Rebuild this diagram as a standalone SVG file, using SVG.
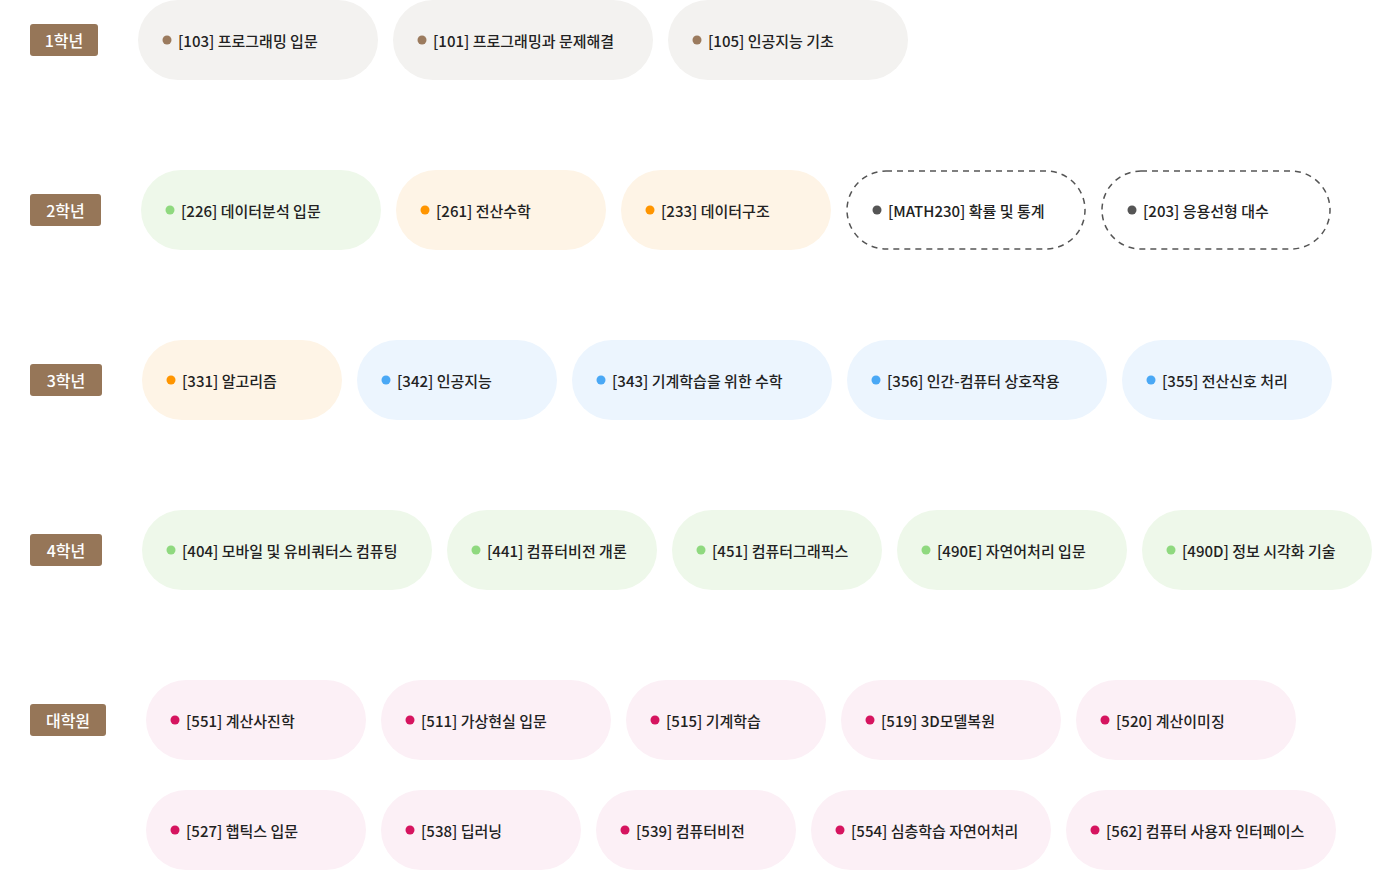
<svg xmlns="http://www.w3.org/2000/svg" width="1398" height="870" viewBox="0 0 1398 870">
<style>
text{font-family:"Noto Sans CJK KR","Noto Sans",sans-serif;font-size:15px;font-weight:500;fill:#222;dominant-baseline:central}
.lb rect{fill:#967658}
.lb text{fill:#fff;font-size:16px}
.g rect{fill:#f3f2f0}.g circle{fill:#9b7b5e}
.gr rect{fill:#eef8ea}.gr circle{fill:#8fd97f}
.o rect{fill:#fef4e6}.o circle{fill:#ff9500}
.b rect{fill:#ecf5fe}.b circle{fill:#4aa8f5}
.p rect{fill:#fcf0f6}.p circle{fill:#d6145f}
.d rect{fill:none;stroke:#555;stroke-width:1.5;stroke-dasharray:6 5}.d circle{fill:#555}
</style>
<g class="lb" id="y1"><rect x="30" y="24" width="68" height="32" rx="3"/><text x="64" y="40" text-anchor="middle">1학년</text></g>
<g class="lb" id="y2"><rect x="30" y="194" width="71" height="32" rx="3"/><text x="65.5" y="210" text-anchor="middle">2학년</text></g>
<g class="lb" id="y3"><rect x="30" y="364" width="72" height="32" rx="3"/><text x="66" y="380" text-anchor="middle">3학년</text></g>
<g class="lb" id="y4"><rect x="30" y="534" width="72" height="32" rx="3"/><text x="66" y="550" text-anchor="middle">4학년</text></g>
<g class="lb" id="grad"><rect x="30" y="704" width="76" height="32" rx="3"/><text x="68" y="720" text-anchor="middle">대학원</text></g>

<g id="c103" class="g"><rect x="138" y="0" width="240" height="80" rx="40"/><circle cx="167" cy="40" r="4.5"/><text x="178" y="40">[103] 프로그래밍 입문</text></g>
<g id="c101" class="g"><rect x="393" y="0" width="260" height="80" rx="40"/><circle cx="422" cy="40" r="4.5"/><text x="433" y="40">[101] 프로그래밍과 문제해결</text></g>
<g id="c105" class="g"><rect x="668" y="0" width="240" height="80" rx="40"/><circle cx="697" cy="40" r="4.5"/><text x="708" y="40">[105] 인공지능 기초</text></g>

<g id="c226" class="gr"><rect x="141" y="170" width="240" height="80" rx="40"/><circle cx="170" cy="210" r="4.5"/><text x="181" y="210">[226] 데이터분석 입문</text></g>
<g id="c261" class="o"><rect x="396" y="170" width="210" height="80" rx="40"/><circle cx="425" cy="210" r="4.5"/><text x="436" y="210">[261] 전산수학</text></g>
<g id="c233" class="o"><rect x="621" y="170" width="210" height="80" rx="40"/><circle cx="650" cy="210" r="4.5"/><text x="661" y="210">[233] 데이터구조</text></g>
<g id="m230" class="d"><rect x="847" y="171" width="238" height="78" rx="39"/><circle cx="877" cy="210" r="4.5"/><text x="888" y="210">[MATH230] 확률 및 통계</text></g>
<g id="c203" class="d"><rect x="1102" y="171" width="228" height="78" rx="39"/><circle cx="1132" cy="210" r="4.5"/><text x="1143" y="210">[203] 응용선형 대수</text></g>

<g id="c331" class="o"><rect x="142" y="340" width="200" height="80" rx="40"/><circle cx="171" cy="380" r="4.5"/><text x="182" y="380">[331] 알고리즘</text></g>
<g id="c342" class="b"><rect x="357" y="340" width="200" height="80" rx="40"/><circle cx="386" cy="380" r="4.5"/><text x="397" y="380">[342] 인공지능</text></g>
<g id="c343" class="b"><rect x="572" y="340" width="260" height="80" rx="40"/><circle cx="601" cy="380" r="4.5"/><text x="612" y="380">[343] 기계학습을 위한 수학</text></g>
<g id="c356" class="b"><rect x="847" y="340" width="260" height="80" rx="40"/><circle cx="876" cy="380" r="4.5"/><text x="887" y="380">[356] 인간-컴퓨터 상호작용</text></g>
<g id="c355" class="b"><rect x="1122" y="340" width="210" height="80" rx="40"/><circle cx="1151" cy="380" r="4.5"/><text x="1162" y="380">[355] 전산신호 처리</text></g>

<g id="c404" class="gr"><rect x="142" y="510" width="290" height="80" rx="40"/><circle cx="171" cy="550" r="4.5"/><text x="182" y="550">[404] 모바일 및 유비쿼터스 컴퓨팅</text></g>
<g id="c441" class="gr"><rect x="447" y="510" width="210" height="80" rx="40"/><circle cx="476" cy="550" r="4.5"/><text x="487" y="550">[441] 컴퓨터비전 개론</text></g>
<g id="c451" class="gr"><rect x="672" y="510" width="210" height="80" rx="40"/><circle cx="701" cy="550" r="4.5"/><text x="712" y="550">[451] 컴퓨터그래픽스</text></g>
<g id="c490e" class="gr"><rect x="897" y="510" width="230" height="80" rx="40"/><circle cx="926" cy="550" r="4.5"/><text x="937" y="550">[490E] 자연어처리 입문</text></g>
<g id="c490d" class="gr"><rect x="1142" y="510" width="230" height="80" rx="40"/><circle cx="1171" cy="550" r="4.5"/><text x="1182" y="550">[490D] 정보 시각화 기술</text></g>

<g id="c551" class="p"><rect x="146" y="680" width="220" height="80" rx="40"/><circle cx="175" cy="720" r="4.5"/><text x="186" y="720">[551] 계산사진학</text></g>
<g id="c511" class="p"><rect x="381" y="680" width="230" height="80" rx="40"/><circle cx="410" cy="720" r="4.5"/><text x="421" y="720">[511] 가상현실 입문</text></g>
<g id="c515" class="p"><rect x="626" y="680" width="200" height="80" rx="40"/><circle cx="655" cy="720" r="4.5"/><text x="666" y="720">[515] 기계학습</text></g>
<g id="c519" class="p"><rect x="841" y="680" width="220" height="80" rx="40"/><circle cx="870" cy="720" r="4.5"/><text x="881" y="720">[519] 3D모델복원</text></g>
<g id="c520" class="p"><rect x="1076" y="680" width="220" height="80" rx="40"/><circle cx="1105" cy="720" r="4.5"/><text x="1116" y="720">[520] 계산이미징</text></g>

<g id="c527" class="p"><rect x="146" y="790" width="220" height="80" rx="40"/><circle cx="175" cy="830" r="4.5"/><text x="186" y="830">[527] 햅틱스 입문</text></g>
<g id="c538" class="p"><rect x="381" y="790" width="200" height="80" rx="40"/><circle cx="410" cy="830" r="4.5"/><text x="421" y="830">[538] 딥러닝</text></g>
<g id="c539" class="p"><rect x="596" y="790" width="200" height="80" rx="40"/><circle cx="625" cy="830" r="4.5"/><text x="636" y="830">[539] 컴퓨터비전</text></g>
<g id="c554" class="p"><rect x="811" y="790" width="240" height="80" rx="40"/><circle cx="840" cy="830" r="4.5"/><text x="851" y="830">[554] 심층학습 자연어처리</text></g>
<g id="c562" class="p"><rect x="1066" y="790" width="270" height="80" rx="40"/><circle cx="1095" cy="830" r="4.5"/><text x="1106" y="830">[562] 컴퓨터 사용자 인터페이스</text></g>
<g id="connectors"/>
</svg>
